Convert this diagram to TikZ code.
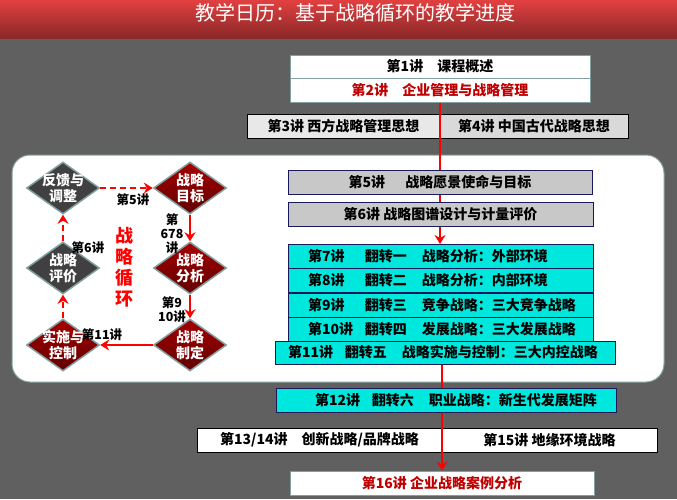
\documentclass[tikz,border=0pt]{standalone}
\usepackage{fontspec}
\setmainfont{Noto Sans CJK SC}
\usetikzlibrary{shapes.geometric,arrows.meta}

\definecolor{bgGrey}{RGB}{96,96,96}
\definecolor{darkRed}{RGB}{192,0,0}
\definecolor{lineRed}{RGB}{255,0,0}
\definecolor{tealGrey}{RGB}{130,160,160}
\definecolor{navy}{RGB}{25,25,90}
\definecolor{boxCyan}{RGB}{0,232,222}
\definecolor{boxGrey}{RGB}{200,200,200}

% one row of a flipped lecture: number, flip, topic
\newcommand\lecrow[5]{\makebox[#1][l]{\hspace*{#2}\makebox[57pt][l]{#3}\makebox[57pt][l]{#4}#5}}

\tikzset{
    box/.style={draw, minimum height=24pt, inner sep=0pt, line width=1pt,
        font=\bfseries\fontsize{14}{16}\selectfont},
    whitebox/.style={box, fill=white, draw=tealGrey},
    plainbox/.style={box, fill=white, draw=black},
    greybox/.style={box, fill=boxGrey, draw=navy},
    flipbox/.style={box, fill=boxCyan, draw=navy},
    dia/.style={diamond, minimum width=73pt, minimum height=52pt, inner sep=-10pt,
        draw=tealGrey, line width=1.5pt, text=white, align=center,
        font=\bfseries\fontsize{14}{16}\selectfont},
    reddia/.style={dia, top color=red!65!black, bottom color=red!38!black},
    greydia/.style={dia, fill=black!75},
    conn/.style={lineRed, line width=2.5pt, -{Stealth[length=9pt,width=11pt,inset=3pt]}},
    loopdash/.style={conn, dash pattern=on 6pt off 4pt},
    tag/.style={font=\bfseries\fontsize{12.5}{14}\selectfont, align=center}
}

\begin{document}
\begin{tikzpicture}[x=1pt, y=-1pt]
    \useasboundingbox (0,0) rectangle (677,499);
    \fill[bgGrey] (0,0) rectangle (677,499);

    % title bar
    \fill[top color={rgb,255:red,226;green,64;blue,64}, bottom color={rgb,255:red,138;green,40;blue,40}]
        (0,0) rectangle (677,38);
    \node[text=white, font=\fontsize{20}{22}\selectfont] (title) at (355,13) {教学日历：基于战略循环的教学进度};

    % panel of the strategy loop
    \draw[fill=white, draw=tealGrey, line width=1pt, rounded corners=18pt] (12,155) rectangle (664,382);

    % opening lectures
    \node[whitebox, minimum width=300pt, minimum height=23pt] (b1) at (440,66.5) {第1讲\quad 课程概述};
    \node[whitebox, minimum width=300pt, text=darkRed] (b2) at (440,90) {第2讲\quad 企业管理与战略管理};
    \node[plainbox, fill=black!9, minimum width=193pt] (b3) at (343.5,126) {第3讲 西方战略管理思想};
    \node[plainbox, fill=black!15, minimum width=188pt] (b4) at (534,126) {第4讲 中国古代战略思想};

    \draw[conn] (b2.south) -- (440,244);

    % loop lectures
    \node[greybox, minimum width=304pt] (b5) at (440,182) {\makebox[57pt][l]{第5讲}战略愿景使命与目标};
    \node[greybox, minimum width=305pt] (b6) at (440.5,214) {第6讲 战略图谱设计与计量评价};
    \node[flipbox] (b7) at (440.5,256) {\lecrow{305pt}{20pt}{第7讲}{翻转一}{战略分析：外部环境}};
    \node[flipbox] (b8) at (440.5,280.5) {\lecrow{305pt}{20pt}{第8讲}{翻转二}{战略分析：内部环境}};
    \node[flipbox] (b9) at (440.5,305) {\lecrow{305pt}{20pt}{第9讲}{翻转三}{竞争战略：三大竞争战略}};
    \node[flipbox] (b10) at (440.5,329) {\lecrow{305pt}{20pt}{第10讲}{翻转四}{发展战略：三大发展战略}};
    \node[flipbox, minimum height=23pt] (b11) at (445,352.5) {\lecrow{340pt}{13pt}{第11讲}{翻转五}{战略实施与控制：三大内控战略}};

    % closing lectures
    \node[plainbox, minimum width=245pt] (b13) at (319.5,440) {第13/14讲\quad 创新战略/品牌战略};
    \node[plainbox, minimum width=215pt] (b15) at (549.5,440) {第15讲 地缘环境战略};
    \node[whitebox, minimum width=304pt, text=darkRed] (b16) at (442,483) {第16讲 企业战略案例分析};

    \draw[conn] (b11.south -| b16.north) -- (b16.north);

    \node[flipbox] (b12) at (446,400) {\lecrow{340pt}{39pt}{第12讲}{翻转六}{职业战略：新生代发展矩阵}};

    % strategy loop
    \node[greydia] (fankui) at (63,188) {反馈与\\调整};
    \node[reddia] (mubiao) at (190,188) {战略\\目标};
    \node[reddia] (fenxi) at (190,268) {战略\\分析};
    \node[reddia] (zhiding) at (190,345) {战略\\制定};
    \node[reddia] (shishi) at (63,345) {实施与\\控制};
    \node[greydia] (pingjia) at (63,268) {战略\\评价};

    \draw[loopdash] (fankui) -- (mubiao);
    \draw[conn] (mubiao) -- (fenxi);
    \draw[conn] (fenxi) -- (zhiding);
    \draw[conn] (zhiding) -- (shishi);
    \draw[loopdash] (shishi) -- (pingjia);
    \draw[loopdash] (pingjia) -- (fankui);

    \node[tag] (t5) at (133,200) {第5讲};
    \node[tag] (t678) at (172,234) {第\\678\\讲};
    \node[tag] (t910) at (172,310) {第9\\10讲};
    \node[tag] (t11) at (102,335) {第11讲};
    \node[tag] (t6) at (88,248) {第6讲};
    \node[text=lineRed, align=center, font=\bfseries\fontsize{18}{21}\selectfont] (loop) at (124,267) {战\\略\\循\\环};
\end{tikzpicture}
\end{document}
